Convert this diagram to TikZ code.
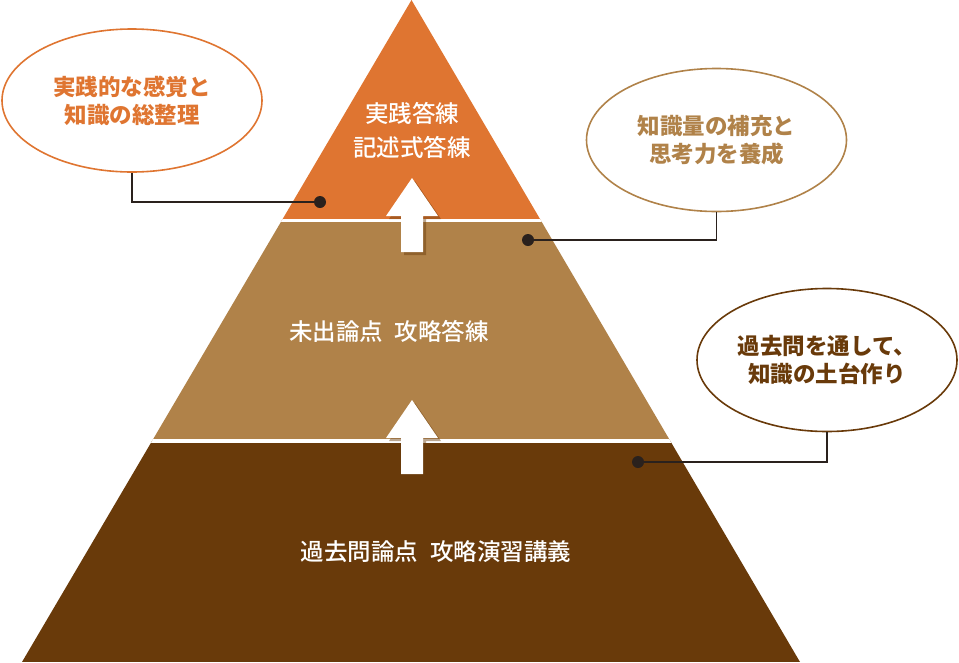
\documentclass[tikz,border=0pt]{standalone}
\usepackage{fontspec}
\usepackage{tikz}
\usetikzlibrary{positioning,shapes.geometric}
\newfontfamily\jp{Noto Sans CJK JP}
\newfontfamily\jpmed{Noto Sans CJK JP Medium}
\definecolor{topband}{HTML}{DF7531}
\definecolor{midband}{HTML}{B08249}
\definecolor{lowband}{HTML}{693A0A}
\definecolor{linedark}{HTML}{2A211D}

\begin{document}
\begin{tikzpicture}[x=1pt,y=-1pt,
   bubble/.style={ellipse,line width=1.6pt,minimum width=260pt,minimum height=143pt,
      inner sep=0pt,align=center,font=\jp\bfseries\fontsize{22.5}{28}\selectfont},
   bandtext/.style={text=white,align=center,font=\jpmed\fontsize{23.5}{34}\selectfont},
   conn/.style={draw=linedark,line width=1.8pt},
   dot/.style={circle,fill=linedark,inner sep=0pt,minimum size=12pt}]
   \useasboundingbox (0,0) rectangle (959,662);
   % pyramid
   \begin{scope}
      \clip (411.5,0) -- (800,662) -- (22,662) -- cycle;
      \fill[topband] (0,0) rectangle (959,220.5);
      \fill[midband] (0,220.5) rectangle (959,441);
      \fill[lowband] (0,441) rectangle (959,662);
      \draw[white,line width=3.5pt] (0,220.5) -- (959,220.5) (0,441) -- (959,441);
   \end{scope}
   % arrows
   \foreach \t in {178,400} {
      \fill[lowband,opacity=0.45,xshift=3pt,yshift=-3pt]
         (412,\t) -- (438,\t+38) -- (423,\t+38) -- (423,\t+74) -- (401,\t+74) -- (401,\t+38) -- (386,\t+38) -- cycle;
      \fill[white]
         (412,\t) -- (438,\t+38) -- (423,\t+38) -- (423,\t+74) -- (401,\t+74) -- (401,\t+38) -- (386,\t+38) -- cycle;
   }
   \node[bandtext] (top) at (412,130) {実践答練\\記述式答練};
   \node[bandtext] (mid) at (389,331) {未出論点\hspace{0.5em}攻略答練};
   \node[bandtext] (low) at (436,552) {過去問論点\hspace{0.5em}攻略演習講義};
   % bubbles
   \node[bubble,draw=topband,text=topband] (b_top) at (132,100.5) {実践的な感覚と\\知識の総整理};
   \node[bubble,draw=midband,text=midband] (b_mid) at (716.5,140) {知識量の補充と\\思考力を養成};
   \node[bubble,draw=lowband,text=lowband] (b_low) at (827,360) {過去問を通して、\\知識の土台作り};
   \node[dot] (d_top) at (320,202) {};
   \node[dot] (d_mid) at (528,240) {};
   \node[dot] (d_low) at (638,462) {};
   \draw[conn] (b_top.south) |- (d_top.center);
   \draw[conn] (b_mid.south) |- (d_mid.center);
   \draw[conn] (b_low.south) |- (d_low.center);
\end{tikzpicture}
\end{document}
